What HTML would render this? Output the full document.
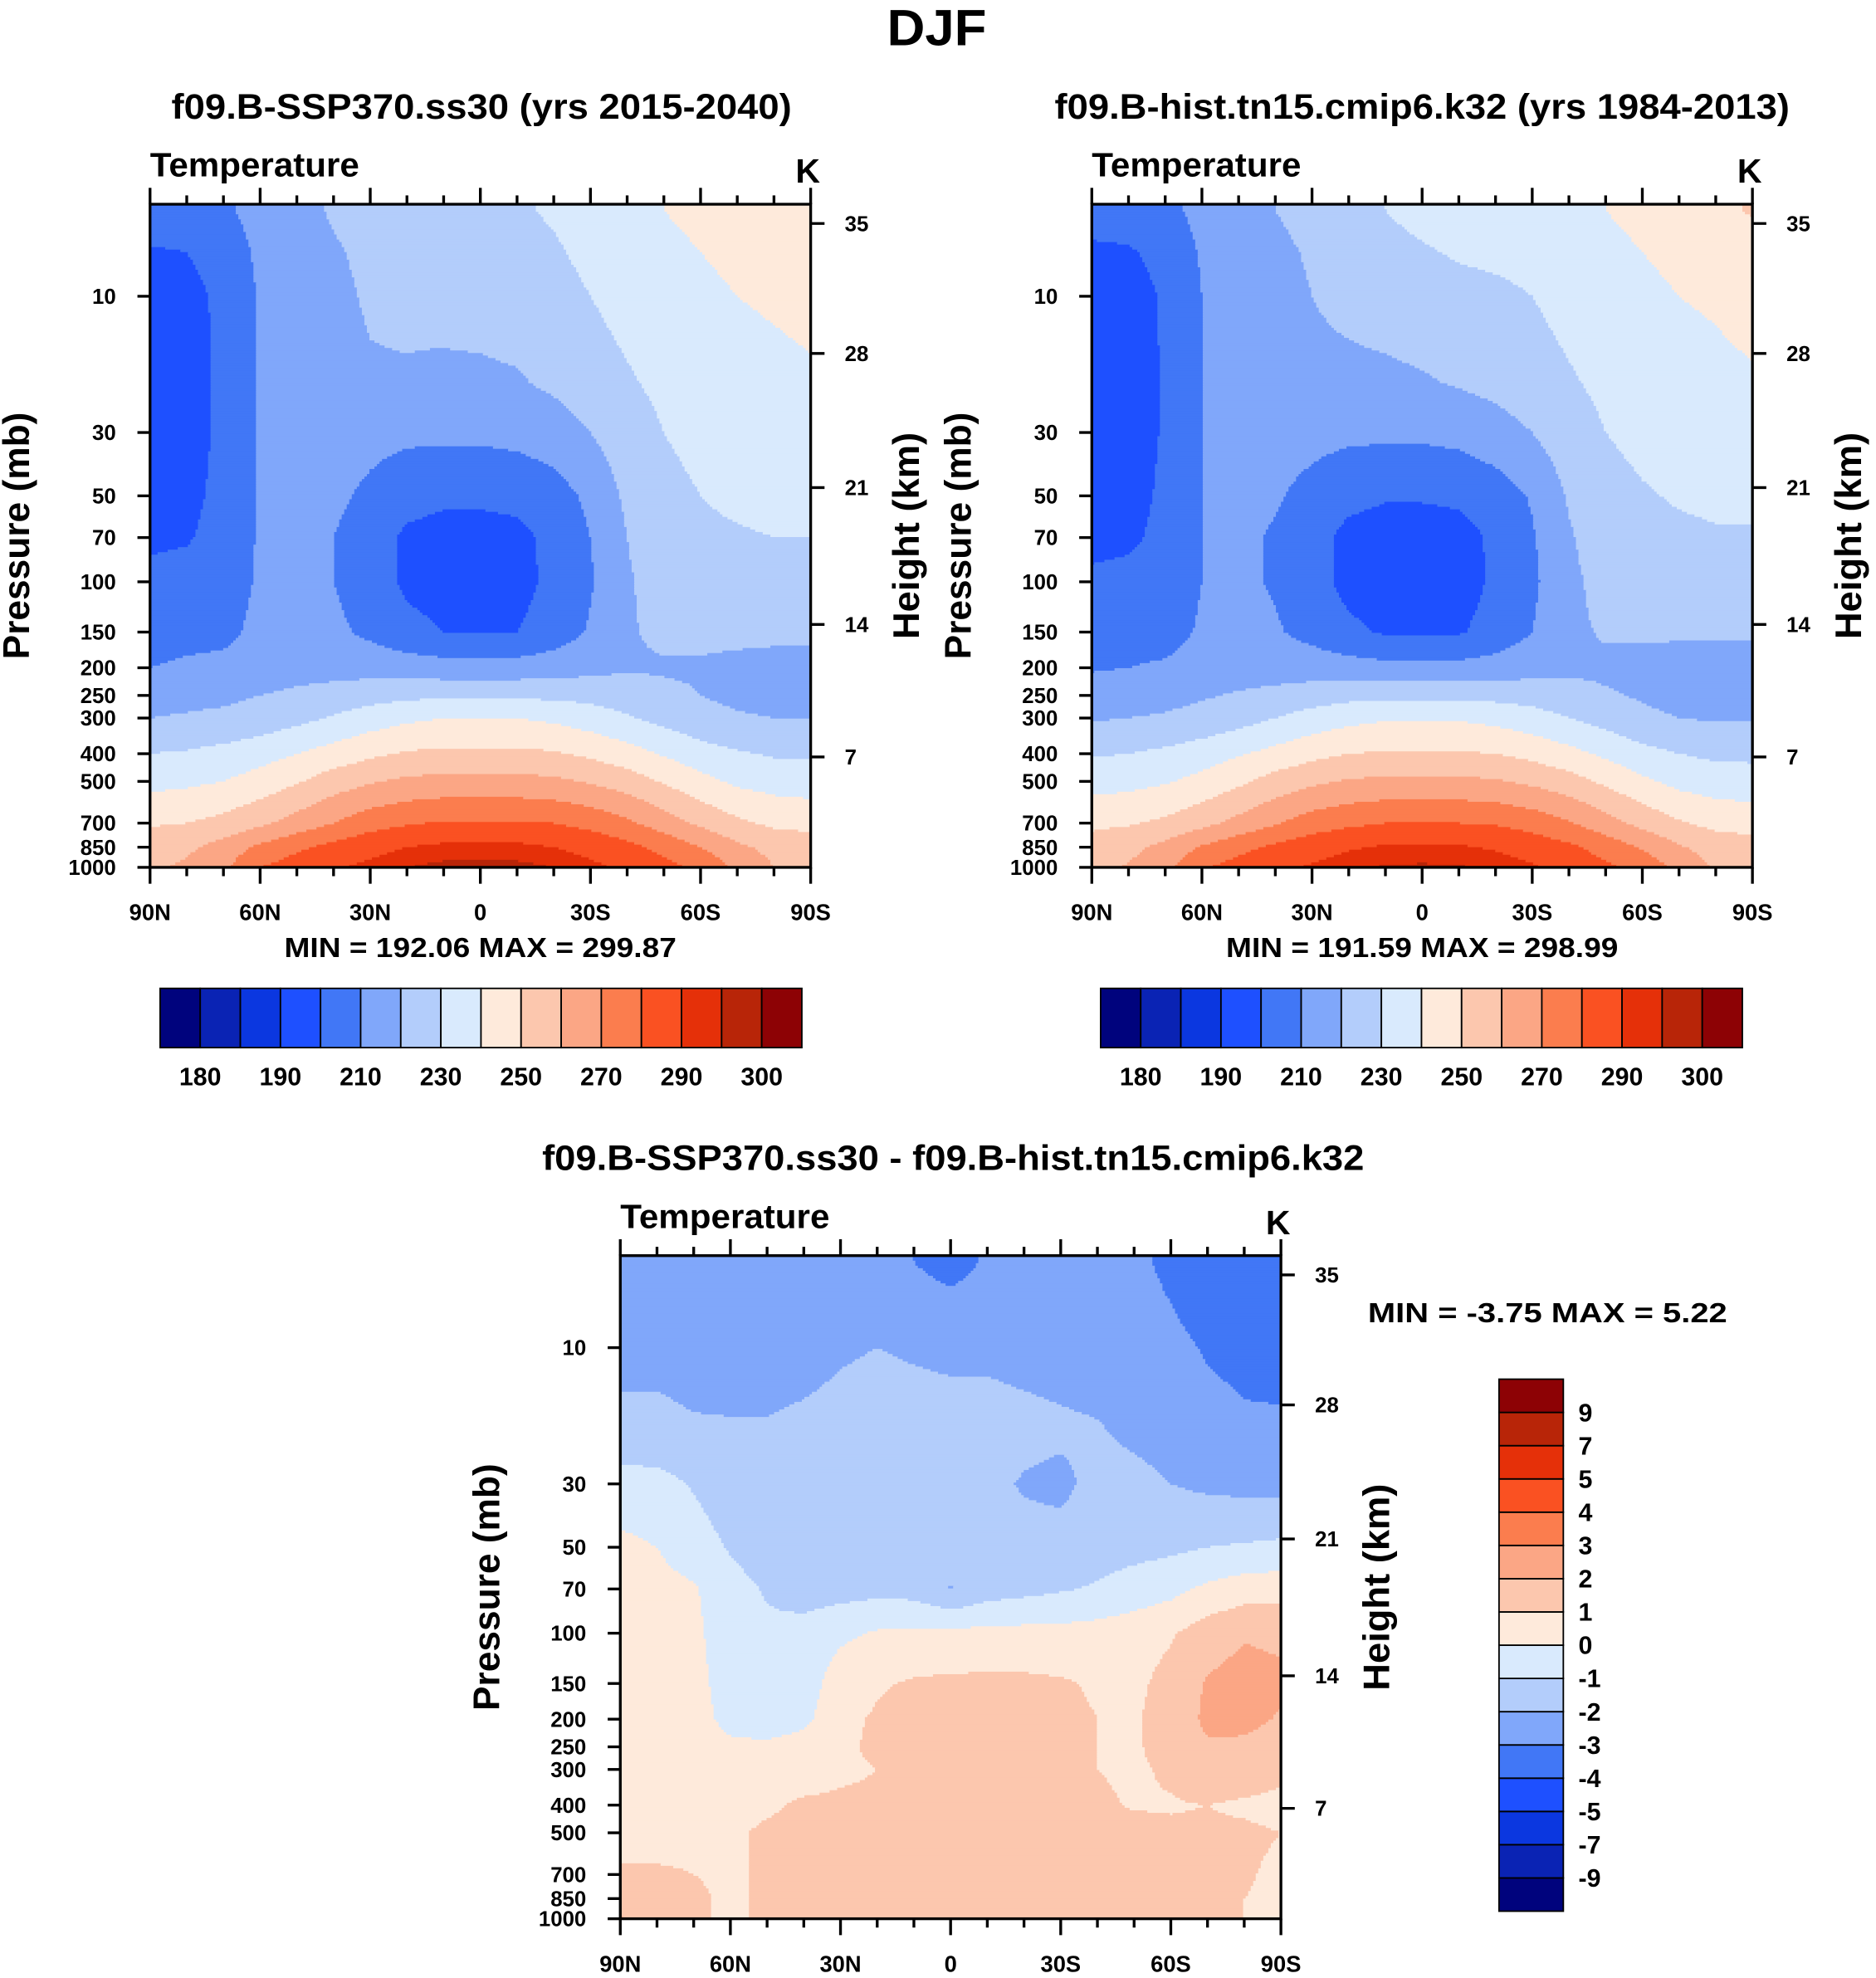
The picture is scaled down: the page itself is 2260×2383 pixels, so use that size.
<!DOCTYPE html>
<html><head><meta charset="utf-8"><style>
html,body{margin:0;padding:0;background:#fff}
svg{display:block}
text{font-family:"Liberation Sans",Arial,sans-serif;font-weight:bold;fill:#000}
</style></head><body>
<svg id="root" width="2260" height="2383" viewBox="0 0 1488 1569" xmlns="http://www.w3.org/2000/svg">
<text x="743" y="36" font-size="40" text-anchor="middle" textLength="79" lengthAdjust="spacingAndGlyphs">DJF</text>
<text x="382" y="94" font-size="28" text-anchor="middle" textLength="492" lengthAdjust="spacingAndGlyphs">f09.B-SSP370.ss30 (yrs 2015-2040)</text>
<text x="1128" y="94" font-size="28" text-anchor="middle" textLength="583" lengthAdjust="spacingAndGlyphs">f09.B-hist.tn15.cmip6.k32 (yrs 1984-2013)</text>
<text x="756" y="928" font-size="28" text-anchor="middle" textLength="652" lengthAdjust="spacingAndGlyphs">f09.B-SSP370.ss30 - f09.B-hist.tn15.cmip6.k32</text>
<g id="p1"></g>
<g id="p2"></g>
<g id="p3"></g>
</svg>
<script>
// ---- data ----
const lats = ["90N","80N","70N","60N","50N","40N","30N","20N","10N","EQ","10S","20S","30S","40S","50S","60S","70S","80S","90S"];
const pressures = [5,7,10,20,30,50,70,100,150,200,250,300,400,500,700,850,1000];
const tempLevels = [180,185,190,200,210,220,230,240,250,260,270,280,290,295,300];
const diffLevels = [-9,-7,-5,-4,-3,-2,-1,0,1,2,3,4,5,7,9];
const tempBarLabels = ["180","190","210","230","250","270","290","300"];
const tempBarLabelIdx = [0,2,4,6,8,10,12,14];
const pressureTicks = [10,30,50,70,100,150,200,250,300,400,500,700,850,1000];
const latTickLabels = ["90N","60N","30N","0","30S","60S","90S"];
const heightTicks = [7,14,21,28,35];
const stats1 = ["192.06","299.87"];
const stats2 = ["191.59","298.99"];
const stats3 = ["-3.75","5.22"];
const colors = ["#00037d","#0a23b4","#0b37e0","#1e50ff","#4177f6","#80a7fa","#b3cdfb","#d9eafd","#feeadb","#fcc7ae","#fba685","#fb7d4e","#fa5122","#e53009","#b82508","#8d0205"];

const tempSSP = [
[206,206,208,214,217,221,224,226,227,228,229,231,234,237,240,242,244,246,247],
[199,200,204,212,216,219,222,224,225,226,227,229,232,235,238,240,242,243,244],
[196,197,202,211,215,218,221,222,223,224,225,227,230,233,236,238,240,241,242],
[195,196,202,211,215,217,219,219,218,218,219,222,226,229,232,235,237,238,239],
[195,196,202,211,214,215,213,212,212,212,213,215,220,226,230,233,235,236,236],
[196,197,203,211,214,212,208,204,202,202,203,206,212,222,227,230,232,233,233],
[198,199,204,211,213,210,205,198,196,196,197,203,210,220,226,228,229,230,230],
[203,204,206,211,213,210,205,198,196,195,196,203,209,219,224,225,226,226,226],
[207,208,208,212,214,212,208,203,200,200,200,205,211,219,222,222,222,222,222],
[210,211,212,214,216,216,216,215,214,214,214,215,217,219,219,219,218,217,217],
[216,217,218,220,222,224,226,228,228,228,228,228,227,225,222,220,218,217,217],
[220,221,222,224,227,231,235,238,240,240,240,238,235,231,227,223,221,220,220],
[230,231,233,236,240,244,248,251,252,252,252,251,248,244,239,234,231,229,229],
[237,238,240,244,249,255,259,262,263,263,263,262,259,255,249,243,238,236,235],
[249,250,253,258,264,270,276,279,281,281,281,280,277,272,265,258,252,248,247],
[255,258,264,272,278,283,287,290,292,292,292,290,287,283,277,270,262,257,255],
[258,262,268,280,285,289,292,295,296.5,297,296.5,295,292,288,283,278,268,260,258]];

const tempHist = [
[205,205,207,213,216,220,223,226,230,233,235,236,237,238,240,242,244,247,251],
[198,199,203,211,215,218,221,224,227,229,231,232,233,235,238,240,242,244,246],
[195,196,201,210,214,217,220,222,224,226,227,228,230,233,236,238,240,241,243],
[194,195,201,210,214,216,218,218,218,219,221,223,226,229,232,235,237,238,239],
[194,195,201,210,213,214,213,212,212,212,213,216,220,226,230,233,235,236,236],
[195,196,202,210,213,211,207,203,201,201,202,205,211,221,226,229,231,232,232],
[197,198,203,210,212,209,204,197,195,195,196,202,209,219,225,227,228,229,229],
[202,203,205,210,212,209,204,197,195,194,195,202,208,218,223,224,225,225,225],
[206,207,207,211,213,211,207,202,199,199,199,204,210,218,221,221,221,221,221],
[209,210,211,213,215,215,215,214,213,213,213,214,216,218,218,218,217,216,216],
[215,216,217,219,221,223,225,227,227,227,227,227,226,224,221,219,217,216,216],
[219,220,221,223,226,230,234,237,239,239,239,237,234,230,226,222,220,219,219],
[229,230,232,235,239,243,247,250,251,251,251,250,247,243,238,233,230,228,228],
[236,237,239,243,248,254,258,261,262,262,262,261,258,254,248,242,237,235,234],
[248,249,252,257,263,269,275,278,280,280,280,279,276,271,264,257,251,247,246],
[254,257,263,271,277,282,286,289,291,291,291,289,286,282,276,269,261,256,254],
[257,261,267,279,284,288,291,294,295.5,296,295.5,294,291,287,282,277,267,259,257]];

const tempDiff = [
[-2.5,-2.5,-2.5,-2.6,-2.6,-2.7,-2.8,-2.9,-3.0,-3.3,-2.9,-2.7,-2.6,-2.7,-2.8,-3.2,-3.8,-3.8,-3.8],
[-2.4,-2.4,-2.4,-2.5,-2.5,-2.5,-2.5,-2.6,-2.7,-2.8,-2.7,-2.6,-2.6,-2.6,-2.7,-3.0,-3.5,-3.7,-3.7],
[-2.2,-2.2,-2.3,-2.4,-2.4,-2.3,-2.1,-2.0,-2.1,-2.2,-2.2,-2.3,-2.4,-2.5,-2.6,-2.7,-3.1,-3.3,-3.4],
[-1.8,-1.8,-1.9,-1.9,-1.9,-1.8,-1.7,-1.6,-1.6,-1.6,-1.6,-1.7,-1.8,-1.9,-2.2,-2.4,-2.6,-2.8,-2.8],
[-0.5,-0.6,-1.1,-1.6,-1.7,-1.7,-1.6,-1.5,-1.5,-1.5,-1.7,-2.1,-2.3,-1.6,-1.7,-2.0,-2.2,-2.3,-2.3],
[0.2,0.0,-0.5,-1.1,-1.6,-1.7,-1.6,-1.5,-1.5,-1.6,-1.6,-1.6,-1.5,-1.4,-1.3,-1.2,-1.0,-0.9,-0.8],
[0.3,0.3,0.1,-0.6,-1.1,-1.5,-1.4,-1.3,-1.4,-2.05,-1.5,-1.3,-1.1,-0.9,-0.6,-0.3,0.2,0.5,0.6],
[0.4,0.4,0.2,-0.5,-0.8,-0.6,-0.2,0.1,0.2,0.2,0.3,0.3,0.3,0.4,0.6,0.9,1.5,1.9,1.8],
[0.5,0.5,0.3,-0.4,-0.9,-0.5,0.5,0.9,1.1,1.2,1.2,1.2,1.1,0.9,0.8,1.3,2.1,2.4,2.2],
[0.6,0.6,0.4,-0.3,-0.8,-0.3,0.8,1.1,1.3,1.4,1.4,1.3,1.2,1.0,0.9,1.4,2.2,2.3,1.9],
[0.6,0.6,0.5,0.2,0.3,0.5,0.9,1.1,1.3,1.3,1.3,1.3,1.2,1.0,0.9,1.3,1.9,1.8,1.5],
[0.6,0.6,0.6,0.5,0.6,0.7,0.9,1.0,1.2,1.3,1.3,1.3,1.2,1.0,0.9,1.1,1.5,1.4,1.2],
[0.6,0.6,0.7,0.8,0.9,1.1,1.1,1.1,1.2,1.3,1.3,1.3,1.2,1.1,0.95,0.95,1.0,0.9,0.8],
[0.7,0.7,0.8,0.9,1.1,1.2,1.2,1.2,1.3,1.3,1.3,1.3,1.2,1.2,1.2,1.1,1.1,1.1,1.0],
[1.1,1.1,1.0,0.9,1.1,1.2,1.2,1.2,1.2,1.2,1.2,1.2,1.2,1.1,1.1,1.1,1.1,1.05,0.9],
[1.3,1.2,1.1,0.9,1.1,1.2,1.2,1.2,1.1,1.05,1.1,1.2,1.1,1.1,1.1,1.1,1.05,1.0,0.9],
[2.1,1.4,1.1,0.9,1.1,1.2,1.2,1.2,1.1,1.1,1.1,1.2,1.1,1.1,1.1,1.05,1.0,1.0,0.9]];

// ---- drawing ----
const NS = "http://www.w3.org/2000/svg";
const W = 524, H = 526, PXDEC = 226.5;
function mk(tag, attrs, parent){const e=document.createElementNS(NS,tag);for(const k in attrs)e.setAttribute(k,attrs[k]);parent.appendChild(e);return e;}
function yOfP(p){return H-(3-Math.log10(p))*PXDEC;}
function yOfKm(z){
  let pp=1013.25*Math.pow(1-0.0065*Math.min(z,11)*1000/288.15,5.2559);
  if(z>11){pp=226.32*Math.exp(-(Math.min(z,20)-11)/6.3416); if(z>20){pp=54.75*Math.pow(1+(z-20)/216.65,-34.163);} }
  return yOfP(pp);
}
function colorIdx(v,levels){let k=0;while(k<levels.length&&v>=levels[k])k++;return k;}
const lps=pressures.map(p=>Math.log10(p));
function sample(grid,x,y){
  const fi=x/W*(lats.length-1);
  const lp=3-(H-y)/PXDEC;
  let r=0; while(r<lps.length-2&&lp>lps[r+1])r++;
  let t=(lp-lps[r])/(lps[r+1]-lps[r]); t=Math.max(0,Math.min(1,t));
  const i0=Math.min(Math.floor(fi),lats.length-2), s=fi-i0;
  const a=grid[r][i0]*(1-s)+grid[r][i0+1]*s;
  const b=grid[r+1][i0]*(1-s)+grid[r+1][i0+1]*s;
  return a*(1-t)+b*t;
}
function lbl(parent,attrs,txt,name){const t=mk("text",attrs,parent);t.textContent=txt;return t;}
function drawPanel(g,x0,y0,grid,levels,stats,sp){
  const fill=mk("g",{transform:`translate(${x0},${y0})`},g);
  
  
  const st=2;
  for(let y=0;y<H;y+=st){
    let runStart=0,runC=-1;
    for(let x=0;x<=W;x+=st){
      const c = x<W ? colorIdx(sample(grid,x+st/2,y+st/2),levels) : -2;
      if(c!==runC){
        if(runC>=0){
          const r=mk("rect",{x:runStart,y:y,width:x-runStart+0.6,height:st+0.6,fill:colors[runC]},fill);
          
          
        }
        runStart=x;runC=c;
      }
    }
  }
  const ax=mk("g",{transform:`translate(${x0},${y0})`,stroke:"#000","stroke-width":2.2,fill:"none"},g);
  
  
  mk("rect",{x:0,y:0,width:W,height:H},ax);
  for(let d=0;d<=180;d+=10){
    const x=d/180*W, L=(d%30===0)?13:7;
    mk("line",{x1:x,y1:0,x2:x,y2:-L},ax);
    mk("line",{x1:x,y1:H,x2:x,y2:H+L},ax);
  }
  pressureTicks.forEach(p=>{const y=yOfP(p);mk("line",{x1:0,y1:y,x2:-10,y2:y},ax);});
  heightTicks.forEach(z=>{const y=yOfKm(z);mk("line",{x1:W,y1:y,x2:W+11,y2:y},ax);});
  const tx=mk("g",{transform:`translate(${x0},${y0})`},g);
  latTickLabels.forEach((l,i)=>lbl(tx,{x:i/6*W,y:H+42,"font-size":18,"text-anchor":"middle"},l,'lat-tick-label'));
  pressureTicks.forEach(p=>lbl(tx,{x:-27,y:yOfP(p)+6,"font-size":17,"text-anchor":"end"},p,'pressure-tick-label'));
  heightTicks.forEach(z=>lbl(tx,{x:W+27,y:yOfKm(z)+6,"font-size":17},z,'height-tick-label'));
  lbl(tx,{x:0,y:-22,"font-size":27,textLength:166,lengthAdjust:"spacingAndGlyphs"},"Temperature",'variable-label');
  lbl(tx,{x:W-12,y:-17,"font-size":27},"K",'units-label');
  lbl(tx,{transform:`translate(-96,${H/2}) rotate(-90)`,"font-size":29,"text-anchor":"middle",textLength:196,lengthAdjust:"spacingAndGlyphs"},"Pressure (mb)",'y-axis-title');
  lbl(tx,{transform:`translate(${W+86},${H/2}) rotate(-90)`,"font-size":29,"text-anchor":"middle",textLength:164,lengthAdjust:"spacingAndGlyphs"},"Height (km)",'y2-axis-title');
  const t=lbl(tx,{x:sp[0],y:sp[1],"font-size":22,"text-anchor":sp[2],"xml:space":"preserve",textLength:sp[4],lengthAdjust:"spacingAndGlyphs"},
    sp[3]?`MIN =  ${stats[0]}  MAX =   ${stats[1]}`:`MIN = ${stats[0]}  MAX = ${stats[1]}`,'min-max-label');
}
function hbar(g,x0,y0){
  const bw=509/16;
  colors.forEach((c,i)=>{const r=mk("rect",{x:x0+i*bw,y:y0,width:bw,height:47,fill:c,stroke:"#000","stroke-width":1.2},g);});
  tempBarLabels.forEach((l,k)=>lbl(g,{x:x0+(tempBarLabelIdx[k]+1)*bw,y:y0+77,"font-size":20,"text-anchor":"middle"},l,'colorbar-label'));
}
const p1=document.getElementById("p1"),p2=document.getElementById("p2"),p3=document.getElementById("p3");
drawPanel(p1,119,162,tempSSP,tempLevels,stats1,[262,597,"middle",false,311]);
drawPanel(p2,866,162,tempHist,tempLevels,stats2,[262,597,"middle",false,311]);
drawPanel(p3,492,996,tempDiff,diffLevels,stats3,[593,53,"start",true,285]);
hbar(p1,127,784);hbar(p2,873,784);
const vb=mk("g",{},p3);


const bh=422/16;
colors.forEach((c,i)=>{const r=mk("rect",{x:1189,y:1094+(15-i)*bh,width:51,height:bh,fill:c,stroke:"#000","stroke-width":1.2},vb);});
diffLevels.forEach((l,i)=>lbl(vb,{x:1252,y:1094+(15-i)*bh+7,"font-size":20},l,'colorbar-label'));
</script>
</body></html>
